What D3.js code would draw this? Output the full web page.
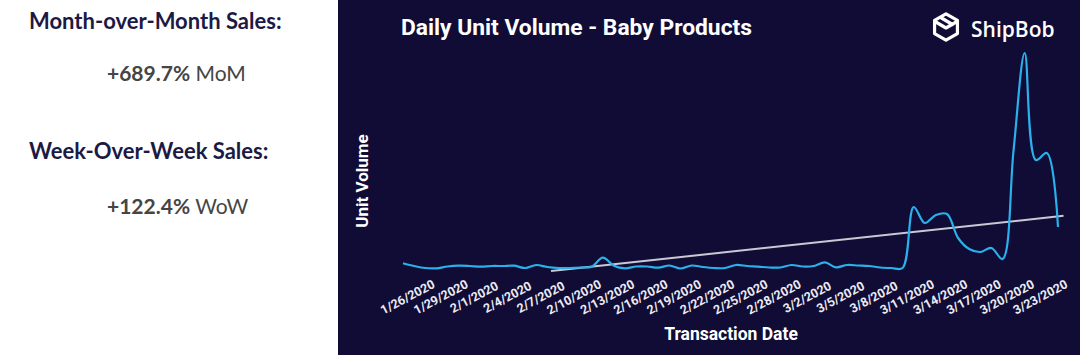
<!DOCTYPE html>
<html>
<head>
<meta charset="utf-8">
<script src="https://cdn.jsdelivr.net/npm/d3@7/dist/d3.min.js"></script>
<style>
  html, body { margin: 0; padding: 0; background: #ffffff; }
  svg { display: block; }
</style>
</head>
<body>
<svg id="chart" width="1080" height="355"></svg>
<script>
// ---------- DATA ----------
const categories = [
  "1/26/2020","1/27/2020","1/28/2020","1/29/2020","1/30/2020","1/31/2020",
  "2/1/2020","2/2/2020","2/3/2020","2/4/2020","2/5/2020","2/6/2020","2/7/2020",
  "2/8/2020","2/9/2020","2/10/2020","2/11/2020","2/12/2020","2/13/2020","2/14/2020",
  "2/15/2020","2/16/2020","2/17/2020","2/18/2020","2/19/2020","2/20/2020","2/21/2020",
  "2/22/2020","2/23/2020","2/24/2020","2/25/2020","2/26/2020","2/27/2020","2/28/2020",
  "2/29/2020","3/1/2020","3/2/2020","3/3/2020","3/4/2020","3/5/2020","3/6/2020",
  "3/7/2020","3/8/2020","3/9/2020","3/10/2020","3/11/2020","3/12/2020","3/13/2020",
  "3/14/2020","3/15/2020","3/16/2020","3/17/2020","3/18/2020","3/19/2020","3/20/2020",
  "3/21/2020","3/22/2020","3/23/2020","3/24/2020","3/25/2020"
];
const unitVolume = [
  77, 50, 30, 27, 45, 53, 50, 43, 50, 50, 53, 30, 60, 40, 30, 30, 35, 43, 133, 53,
  27, 45, 45, 33, 55, 25, 55, 40, 30, 30, 60, 50, 43, 35, 35, 60, 45, 50, 87, 37,
  60, 55, 50, 35, 30, 30, 640, 480, 560, 570, 330, 220, 190, 230, 120, 1210, 2180, 1110, 1180, 440
];
const tickLabels = [
  "1/26/2020","1/29/2020","2/1/2020","2/4/2020","2/7/2020","2/10/2020","2/13/2020",
  "2/16/2020","2/19/2020","2/22/2020","2/25/2020","2/28/2020","3/2/2020","3/5/2020",
  "3/8/2020","3/11/2020","3/14/2020","3/17/2020","3/20/2020","3/23/2020"
];
const kpiTitles = ["Month-over-Month Sales:", "Week-Over-Week Sales:"];
const kpiValues = ["+689.7%", "+122.4%"];
const kpiUnits = ["MoM", "WoW"];
const chartTitle = "Daily Unit Volume - Baby Products";
const yTitle = "Unit Volume";
const xTitle = "Transaction Date";
const brand = "ShipBob";

// ---------- LAYOUT ----------
const svg = d3.select("#chart");
const W = 1080, H = 355;
const panelX = 338;
const navy = "#100c35";

svg.append("rect").attr("x", 0).attr("y", 0).attr("width", W).attr("height", H).attr("fill", "#ffffff");
svg.append("rect").attr("x", panelX).attr("y", 0).attr("width", W - panelX).attr("height", H).attr("fill", navy);

// ---------- LEFT KPI PANEL ----------
const kpiFont = "Lato, 'Open Sans', sans-serif";
const kpiTitleY = [29, 159];
const kpiValueY = [81, 214];
kpiTitles.forEach((t, i) => {
  svg.append("text")
    .attr("x", 29).attr("y", kpiTitleY[i])
    .attr("font-family", kpiFont).attr("font-weight", 700)
    .attr("font-size", 22).attr("fill", "#1c1a45")
    .text(t);
  const tx = svg.append("text")
    .attr("x", 107).attr("y", kpiValueY[i])
    .attr("font-family", kpiFont).attr("font-size", 21).attr("fill", "#454545");
  tx.append("tspan").attr("font-weight", 700).text(kpiValues[i]);
  tx.append("tspan").attr("font-weight", 400).text(" " + kpiUnits[i]);
});

// ---------- SCALES ----------
const x = d3.scalePoint().domain(categories).range([403, 1058]);
const xi = d3.scaleLinear().domain([0, categories.length - 1]).range([403, 1058]);
const y = d3.scaleLinear().domain([0, d3.max(unitVolume)]).range([271, 53]);

// ---------- TITLE ----------
svg.append("text")
  .attr("x", 401).attr("y", 35)
  .attr("font-family", "Roboto, sans-serif").attr("font-weight", 700)
  .attr("font-size", 22.8).attr("fill", "#ffffff")
  .text(chartTitle);

// ---------- LOGO ----------
const logo = svg.append("g").attr("transform", "translate(946,27)");
const r = 13.2;
const hex = d3.range(6).map(k => {
  const a = Math.PI / 180 * (60 * k - 90);
  return [r * Math.cos(a), r * Math.sin(a)];
});
logo.append("path")
  .attr("d", d3.line()(hex) + "Z")
  .attr("fill", "none").attr("stroke", "#ffffff").attr("stroke-width", 3.2)
  .attr("stroke-linejoin", "round");
logo.append("path")
  .attr("d", "M-11,-5.5 L0,1 L11,-5.5 M-4.5,-9 L6.5,-2.5")
  .attr("fill", "none").attr("stroke", "#ffffff").attr("stroke-width", 3.2)
  .attr("stroke-linejoin", "round").attr("stroke-linecap", "round");
svg.append("text")
  .attr("x", 971).attr("y", 37)
  .attr("font-family", "'Open Sans', sans-serif").attr("font-weight", 600)
  .attr("font-size", 21).attr("fill", "#ffffff")
  .text(brand);

// ---------- AXIS TITLES ----------
svg.append("text")
  .attr("transform", "translate(368,181) rotate(-90)")
  .attr("text-anchor", "middle")
  .attr("font-family", "Roboto, sans-serif").attr("font-weight", 700)
  .attr("font-size", 17).attr("fill", "#ffffff")
  .text(yTitle);
svg.append("text")
  .attr("x", 731).attr("y", 340)
  .attr("text-anchor", "middle")
  .attr("font-family", "Roboto, sans-serif").attr("font-weight", 700)
  .attr("font-size", 17.5).attr("fill", "#ffffff")
  .text(xTitle);

// ---------- X AXIS (tick labels only) ----------
const xAxis = d3.axisBottom(x).tickValues(tickLabels).tickSize(0).tickPadding(0);
const gx = svg.append("g").attr("transform", "translate(0,297)").call(xAxis);
gx.select(".domain").remove();
gx.selectAll(".tick text")
  .attr("font-family", "Roboto, sans-serif").attr("font-weight", 700)
  .attr("font-size", 12.5).attr("fill", "#ecebf3")
  .attr("text-anchor", "middle")
  .attr("dy", "0.35em").attr("y", 0)
  .attr("transform", "translate(4,0) rotate(-28)");

// ---------- TRENDLINE (least squares) ----------
const n = unitVolume.length;
const mx = d3.mean(unitVolume, (d, i) => i);
const my = d3.mean(unitVolume);
const sxy = d3.sum(unitVolume, (d, i) => (i - mx) * (d - my));
const sxx = d3.sum(unitVolume, (d, i) => (i - mx) * (i - mx));
const slope = sxy / sxx;
const icpt = my - slope * mx;
const tStart = Math.max(0, -icpt / slope);
const tEnd = n - 0.5;
svg.append("line")
  .attr("x1", xi(tStart)).attr("y1", y(slope * tStart + icpt))
  .attr("x2", xi(tEnd)).attr("y2", y(slope * tEnd + icpt))
  .attr("stroke", "#c9c8d4").attr("stroke-width", 2);

// ---------- SERIES LINE ----------
const line = d3.line()
  .x((d, i) => x(categories[i]))
  .y(d => y(d))
  .curve(d3.curveCatmullRom.alpha(0.5));
svg.append("path")
  .datum(unitVolume)
  .attr("d", line)
  .attr("fill", "none")
  .attr("stroke", "#2ab0ea")
  .attr("stroke-width", 2.2)
  .attr("stroke-linejoin", "round");
</script>
</body>
</html>
